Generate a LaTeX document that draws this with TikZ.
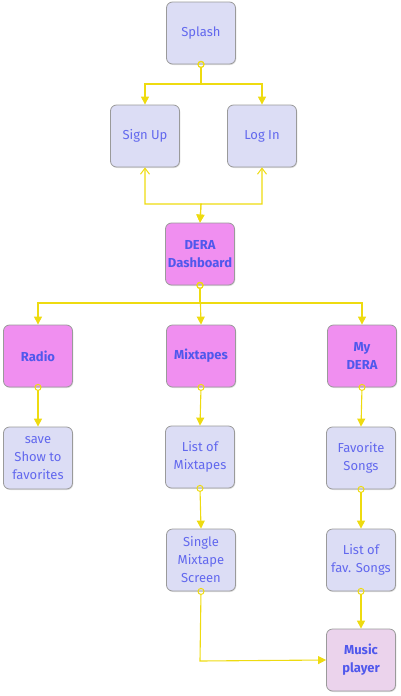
\documentclass[tikz,border=0pt]{standalone}
\usepackage{fontspec}
\setmainfont{Fira Sans}
\usetikzlibrary{arrows.meta,shadows}
\definecolor{boxfill}{HTML}{DCDDF5}
\definecolor{boxpink}{HTML}{F08FF0}
\definecolor{boxlight}{HTML}{EBD3EC}
\definecolor{boxline}{HTML}{9A9A9A}
\definecolor{txt}{HTML}{6268EE}
\definecolor{txtb}{HTML}{5058EC}
\definecolor{conn}{HTML}{EEDB10}
\tikzset{
  box/.style={draw=boxline, line width=0.8pt, rounded corners=6pt, fill=boxfill,
    minimum width=69pt, minimum height=62pt, inner sep=0pt, align=center,
    text=txt, font=\fontsize{13}{18}\selectfont,
    drop shadow={shadow xshift=0.8pt, shadow yshift=-1pt, opacity=0.25}},
  pinkbox/.style={box, fill=boxpink, text=txtb, font=\fontsize{13}{18}\selectfont\bfseries},
  musicbox/.style={box, fill=boxlight, text=txtb, font=\fontsize{13}{18}\selectfont\bfseries},
  link/.style={draw=conn, line width=1.1pt},
  circstart/.style={{Circle[open,length=7pt,width=7pt,line width=1pt]}-{Triangle[length=8pt,width=8pt]}, shorten <=-3.5pt},
  barbstart/.style={{Straight Barb[length=6pt,width=9pt,line width=1pt]}-{Triangle[length=8pt,width=8pt]}},
}
\begin{document}
\begin{tikzpicture}[x=1pt,y=-1pt]
\useasboundingbox (0,0) rectangle (400,696);
\node[box] (splash) at (201,33) {Splash};
\node[box] (signup) at (145,136) {Sign Up};
\node[box] (login) at (262,136) {Log In};
\node[pinkbox] (dash) at (200,254) {DERA\\Dashboard};
\node[pinkbox] (radio) at (38,356) {Radio};
\node[pinkbox] (mix) at (201,356) {Mixtapes};
\node[pinkbox] (my) at (362,356) {My\\DERA};
\node[box] (save) at (38,458) {save\\Show to\\favorites};
\node[box] (listmix) at (200,457) {List of\\Mixtapes};
\node[box] (fav) at (361,458) {Favorite\\Songs};
\node[box] (single) at (201,560) {Single\\Mixtape\\Screen};
\node[box] (listfav) at (361,560) {List of\\fav. Songs};
\node[musicbox] (music) at (361,660) {Music\\player};

\coordinate (j1) at (201,84);
\coordinate (j2) at (201,204);
\coordinate (j3) at (200,303);
\coordinate (j4) at (200,661);

\draw[link, circstart] (splash.south) -- (j1) -| (signup.north);
\draw[link, circstart] (splash.south) -- (j1) -| (login.north);
\draw[link, barbstart] (signup.south) |- (j2) -- (dash.north);
\draw[link, barbstart] (login.south) |- (j2) -- (dash.north);
\draw[link, circstart] (dash.south) -- (j3) -| (radio.north);
\draw[link, circstart] (dash.south) -- (mix.north);
\draw[link, circstart] (dash.south) -- (j3) -| (my.north);
\draw[link, circstart] (radio.south) -- (save.north);
\draw[link, circstart] (mix.south) -- (listmix.north);
\draw[link, circstart] (my.south) -- (fav.north);
\draw[link, circstart] (listmix.south) -- (single.north);
\draw[link, circstart] (fav.south) -- (listfav.north);
\draw[link, circstart] (listfav.south) -- (music.north);
\draw[link, circstart] (single.south) -- (j4) -- (music.west);
\end{tikzpicture}
\end{document}
